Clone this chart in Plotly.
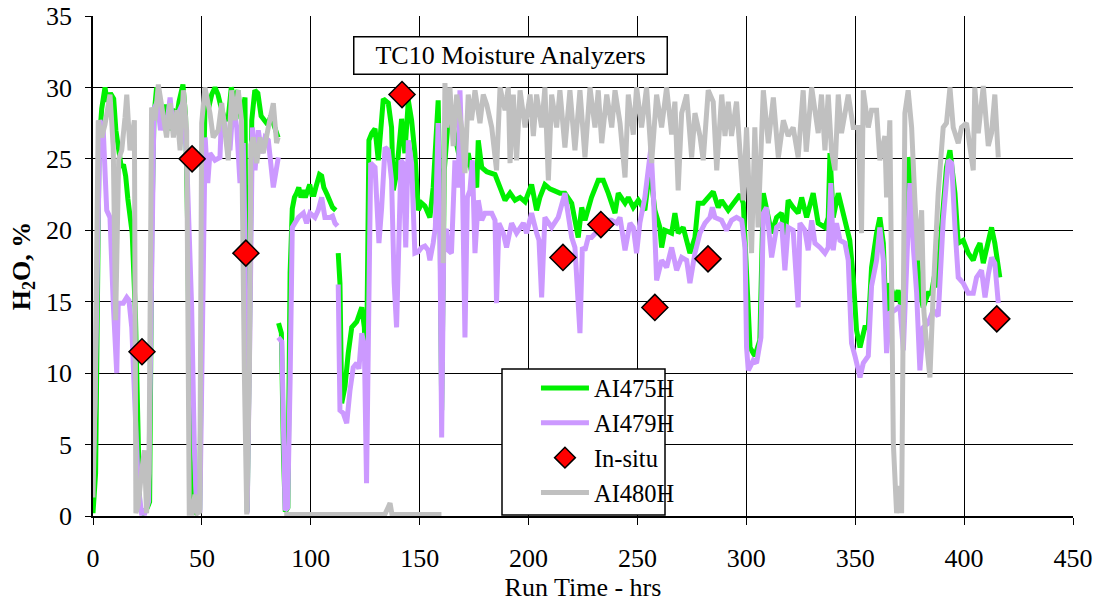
import plotly.graph_objects as go

# ---------------- data (hours, H2O %) ; None marks a gap in the record ----------------
green_hours = [0, 1.2, 2.8, 4, 5.5, 6.5, 8, 9.5, 10.5, 12,
               13, 14, 15, 16, 17, 18, 19.5, 20.5, 21.5, 23,
               25, 26, 27, 28, 29.2, 30.5, 32, 33.5, 35, 36.5,
               38, 39.5, 41.3, 42.5, 43.5, 44.5, 45.5, 47.5, 49, 50.3,
               51.5, 53, 54.5, 56, 57.4, 58.5, 60, 62, 63.5, 65,
               66.5, 68, 69.8, 70.3, 70.8, 71.8, 72.9, 74.3, 75.7, 77.2,
               78.7, 80.2, 81.7, 83.2, 85,
               None,
               85.2, 86.5, 87.5, 88.3, 89.5, 90.5, 91.5, 92.5, 93.5, 94.5,
               95.5, 96.5, 97.5, 98.5, 99.5, 100.5, 101.5, 102.5, 104, 105,
               106, 107.5, 109, 110, 111.5,
               None,
               112.6, 113.4, 114.2, 115.7, 117.2, 118.8, 121.1, 123.4, 124.6, 125.5,
               126.7, 128, 129.5, 131, 133.3, 135.6, 137.1, 137.9, 139.4, 141.7,
               143.2, 144.8, 146.3, 147.8, 149.4, 150.9, 152.4, 154.7, 156.2, 157.8,
               158.5, 159.3, 160.1, 161.3, 163.1, 164.7, 166.2, 168.5, 170.8, 172.3,
               173.9, 176.2, 176.9, 178.5, 180.8, 184.6, 186.9, 189.2, 191.5, 193.8,
               196.1, 198.4, 201.4, 203.7, 205.2, 207.5, 209.8, 212.1, 214.4, 216.7,
               219.8, 222.8, 224.4, 225.9, 228.9, 232, 234.3, 236.6, 239.7, 241.2,
               244.3, 245.8, 248.1, 250.4, 253.4, 255.7, 258, 260.3, 261.1, 262.6,
               265.7, 267.2, 268.7, 271, 274.1, 276.4, 277.9, 280.2, 282.5, 284.8,
               287.1, 288.6, 291.7, 294.8, 297.1, 298.6, 299.4, 300.1, 301.7, 303.9,
               306.2, 307.8, 310.1, 311.6, 313.9, 316.2, 317.7, 319.2, 321.5, 323.8,
               325.4, 327.7, 330.7, 333, 336.1, 337.6, 338.4, 339.9, 342.2, 344.5,
               347.5, 349.1, 350.6, 352.2, 354.4, 356, 357.5, 359.8, 361.3, 362.9,
               364.4, 365.9, 368.2, 369.7, 371.3, 372.8, 374.3, 375.9, 377.4, 379.7,
               381.2, 383.5, 385, 386.6, 387.4, 389.6, 391.9, 393.5, 395.8, 397.3,
               399.6, 401.9, 404.2, 405.7, 407.3, 408.8, 410.3, 412.6, 414.1, 416.4]
green_values = [0.2, 3, 26, 28.5, 30, 29, 29.6, 29.2, 27, 25.5,
                24.4, 24.6, 23.8, 22.2, 21, 19.8, 14, 6, 0.5, 0.2,
                0.6, 1, 20, 28, 30, 29.2, 27.5, 28.8, 27, 28.5,
                27.5, 29, 30.2, 28, 20, 5, 0.3, 0.2, 0.5, 20,
                29.3, 28.5, 29.5, 30, 29.5, 28.8, 28, 27.7, 30, 29,
                29.8, 27.8, 29.3, 15, 0.3, 12, 27.7, 29.8, 29.6, 28,
                27.7, 27.4, 28, 27.2, 26.5,
                None,
                13.5, 12.8, 4, 0.3, 0.6, 17, 21.5, 22.3, 22.6, 23,
                22.3, 22.8, 22.3, 22.8, 23.2, 22.5, 22.5, 23.1, 23.9, 23.8,
                23, 22.5, 22, 21.6, 21.4,
                None,
                18.4, 16.3, 7.9, 9.05, 11.4, 13.2, 13.6, 14.6, 13.2, 9,
                26.3, 26.8, 27.1, 24.9, 29.2, 28.9, 27.2, 22.8, 24, 27.8,
                25.4, 29.1, 27.7, 25.4, 21.4, 21.9, 21.7, 20.9, 23, 27.5,
                29.1, 22, 7.4, 24.2, 27.7, 27.7, 26.5, 24.9, 24.4, 25.4,
                24, 23, 26.3, 24.4, 24.1, 23.9, 23, 22.1, 22.6, 22.1,
                22.3, 22, 23.2, 21.4, 22.3, 23.2, 22.9, 22.7, 22.6, 22.6,
                21.9, 19.5, 21.6, 20.7, 22.3, 23.5, 23.5, 22.6, 21.2, 22.6,
                21.9, 22.3, 21.6, 22.1, 21.4, 24.4, 21.4, 20.2, 18.8, 20,
                19.8, 21.2, 19.8, 20.2, 18.4, 19.5, 21.9, 21.9, 22.3, 22.7,
                21.6, 22.1, 21.4, 22.1, 22.5, 21.9, 19.3, 15.6, 11.8, 11.2,
                12.3, 22.6, 20.9, 19.8, 20.9, 21.2, 19.3, 22.1, 21.6, 21.2,
                22.3, 20.9, 22.6, 20.5, 20.2, 20.9, 25.4, 20.9, 22.6, 21.2,
                19.3, 16.7, 13, 11.8, 13.2, 13.2, 17.4, 19.8, 20.9, 19.1,
                12.8, 16.3, 15.1, 15.8, 14.4, 15.1, 25.1, 24.2, 20.7, 15.6,
                14.6, 15.6, 15.6, 17, 16, 20.7, 24.4, 25.6, 22.6, 19.1,
                19.3, 18.4, 17.9, 18.6, 19.1, 17.7, 18.8, 20.2, 19.1, 16.7]

purple_hours = [0, 0.9, 3.2, 4.7, 6.3, 7.8, 9.3, 10.9, 11.6, 13.9,
                15.5, 16.5, 17.8, 19.3, 20.8, 22.3, 23.8, 25.5, 27, 28,
                29.5, 31, 32.5, 34, 35.4, 36.9, 39.2, 41.5, 43, 45.3,
                46.5, 47.6, 49.1, 50.6, 51.5, 52.7, 53.7, 56, 58.3, 59.1,
                60.6, 62.9, 64.4, 66, 67.5, 69, 69.8, 70.8, 72, 73.2,
                74.4, 75.9, 77.5, 79, 80.5, 82.8, 85.1,
                None,
                85.1, 86.7, 88.2, 89.4, 90.5, 91.5, 94.3, 96.6, 98.1, 99.6,
                101.9, 103.4, 105, 106.5, 108.8, 110, 111.1, 112.3,
                None,
                112.6, 113.4, 114.9, 116.5, 118, 119.5, 121.1, 122.1, 123.4, 124.6,
                125.6, 126.7, 127.5, 129.5, 131.3, 132.5, 134.1, 135.6, 137.1, 138.3,
                139.4, 140.5, 141.4, 142.4, 143.6, 144.8, 146.3, 147.8, 149.4, 150.9,
                152.4, 153.9, 154.7, 156.2, 157.2, 158.5, 159.3, 160.1, 161.1, 162.3,
                163.1, 164.6, 166.2, 167.7, 168.5, 169.5, 170.8, 171.9, 173.1, 174.2,
                175.4, 176.9, 178.5, 180, 183.1, 184.6, 185.3, 186.4, 188.4, 189.9,
                192.2, 194.5, 197.6, 199.1, 201.4, 203.7, 204.8, 206, 207.5, 210.6,
                213.6, 216.7, 218.5, 219.8, 221.3, 222.5, 223.6, 224.7, 225.9, 227.4,
                228.9, 232, 235.1, 238.1, 240.4, 242, 244.3, 246.6, 248.1, 249.6,
                251.1, 253.4, 255, 256.2, 257.3, 258.8, 261.1, 263.4, 265.7, 268,
                270.3, 272.6, 274.1, 276.4, 278.7, 281, 283.3, 284.4, 285.6, 287.1,
                288.6, 290.9, 293.2, 295.5, 297.9, 299.4, 300.1, 300.9, 303.2, 304.7,
                306.7, 307.8, 309.3, 311.6, 313.9, 316.2, 317.7, 319.2, 321.5, 323.8,
                324.6, 326.9, 328.4, 330, 331.5, 333.8, 336.1, 337.6, 338.8, 339.9,
                341.4, 343, 345.3, 346.8, 348.3, 349.9, 352.2, 353.7, 356, 357.5,
                359.8, 361.3, 362.9, 364.4, 365.9, 368.2, 370.5, 372.1, 373.6, 375.1,
                376.7, 378.2, 379.7, 381.2, 383.5, 385.8, 388.1, 390.4, 392.7, 394.3,
                395.8, 397.3, 399.6, 401.9, 404.2, 405.7, 408, 409.6, 411.1, 412.6,
                414.1, 415.7]
purple_values = [3, 7.9, 27.7, 27, 21.4, 20.9, 14.9, 10, 14.9, 14.9,
                 15.3, 15.1, 13.2, 7.9, 2, 0.2, 0.2, 1, 20, 28.5,
                 29, 27, 28, 27.5, 29.3, 27, 28.2, 29, 25.1, 14.6,
                 5, 0.4, 0.4, 17, 26.5, 23.3, 25.4, 24.9, 25.1, 28.4,
                 27.2, 25.6, 28.9, 27.2, 23.3, 26.1, 19, 0.2, 12.5, 27.2,
                 24.2, 27, 25.4, 26.5, 26.3, 23, 25.1,
                 None,
                 12.5, 12.2, 0.4, 0.6, 9.4, 20.2, 20.9, 21.2, 20.5, 21.2,
                 20.9, 21.4, 22.3, 20.9, 20.9, 21, 20.5, 20.3,
                 None,
                 16.2, 7.4, 7.2, 6.5, 8.8, 10.4, 10.7, 10.3, 12.8, 11.9,
                 2.3, 13, 24.7, 24.4, 19.1, 21.5, 25.8, 25.6, 23.5, 16.3,
                 13.2, 19.5, 24.9, 24.7, 18.8, 26.3, 24.7, 18.4, 18.5, 18.8,
                 18.9, 18.6, 17.9, 19.1, 20.2, 27.5, 19.6, 5.5, 19.6, 20.1,
                 18.6, 18.4, 24.9, 23, 29.8, 24.9, 12.5, 22.3, 22.8, 24.9,
                 18.4, 22.1, 20.7, 21.2, 21.2, 20.7, 14.9, 20.5, 19.8, 18.8,
                 20.5, 19.8, 20.5, 19.8, 21.2, 19.8, 19.3, 15.3, 20.9, 20.2,
                 20.9, 22.6, 21, 19.5, 18.8, 16, 12.8, 18.8, 18.6, 19.5,
                 19.5, 20, 20.7, 20.7, 20.5, 20.9, 18.6, 20.5, 20.2, 18.4,
                 20.5, 22.3, 24.4, 25.8, 22.6, 16.5, 17.9, 17.4, 18.8, 17.2,
                 18.1, 17.9, 16.3, 18.4, 19.8, 20.5, 20.9, 21.6, 20.9, 20.8,
                 20.7, 20, 20.7, 20.9, 20.7, 18.8, 11.8, 10.2, 10.9, 10.7,
                 12.5, 21.2, 21.6, 18.1, 20.2, 20.5, 17.2, 20.2, 20, 14.6,
                 20.5, 20, 18.6, 20.7, 19.1, 18.8, 18.4, 18.8, 23.3, 18.6,
                 20.5, 19.3, 19.1, 17.9, 12.1, 11.2, 9.7, 10.7, 11.2, 16.1,
                 17.9, 20.2, 17.9, 11.4, 14.2, 14.4, 14.7, 11.6, 17.9, 23.3,
                 18.8, 15.6, 10.2, 13.2, 13.5, 14.4, 14, 20.7, 24.9, 24.7,
                 20.2, 16.7, 16.3, 15.6, 15.6, 16.7, 17.2, 15.3, 16.9, 18.1,
                 17.7, 14.9]

gray_hours = [0, 0.9, 2.4, 4, 5.5, 7.8, 9.3, 10.4, 11.8, 13.2,
              14.7, 15.5, 17, 19, 19.7, 20.8, 22.3, 23.6, 24.6, 25.7,
              26.9, 28.5, 30, 32.3, 33.8, 35.4, 36.9, 38.5, 40, 41.5,
              43, 44.2, 45.6, 46.8, 48, 49, 49.9, 51.4, 53.7, 55.2,
              57.5, 59.1, 60.6, 62.1, 63.7, 65.2, 66.7, 68.2, 69.5, 70.6,
              71.8, 72.5, 73.6, 75.2, 76.7, 78.2, 80.5, 82.8, 84.3, 85,
              None,
              87.8, 100, 120, 134, 135.5, 136.4, 137.3, 150, 160,
              None,
              160.8, 161.6, 162.4, 163.9, 165.4, 167, 169.3, 170.8, 172.3, 173.8,
              175.4, 177.7, 179.2, 180.8, 183.1, 185.3, 186.9, 189.2, 190.7, 191.5,
              193, 194.5, 196.1, 198.4, 200.7, 202.2, 203.7, 206, 207.5, 209.1,
              210.6, 212.9, 214.4, 216.7, 219, 221.3, 223.6, 225.9, 228.2, 230.5,
              232, 233.6, 235.9, 238.2, 239.7, 242, 244.3, 245.8, 248.1, 249.6,
              251.9, 254.2, 256.5, 258.8, 261.1, 263.4, 265.7, 267.2, 268.7, 270.3,
              272.6, 274.9, 276.4, 278.7, 280.2, 282.5, 284.8, 286.4, 288.7, 290.2,
              291.7, 293.2, 295.5, 297.1, 298.6, 300.1, 301.7, 302.4, 303.9, 305.4,
              307.8, 310.1, 312.4, 314.7, 317, 319.2, 321.5, 323.8, 326.1, 327.5,
              330, 333, 334.5, 336.1, 337.6, 339.1, 340.7, 342.2, 343.7, 346.8,
              349.1, 351.4, 352.9, 353.7, 356, 357.5, 359.8, 361.3, 363.6, 364.4,
              365.9, 367.5, 369, 370.5, 371.3, 372.8, 374.3, 375.9, 377.4, 378.9,
              380.5, 381.5, 382.7, 384.3, 385.8, 388.1, 390.4, 391.9, 393.5, 395,
              397.3, 398.8, 401.1, 402.6, 404.2, 404.9, 406.5, 408.8, 411.1, 412.6,
              414.1, 415.7]
gray_values = [1.3, 8, 27.7, 26.5, 27.4, 29.5, 25.8, 13.7, 25, 25.6,
               27.9, 29.5, 25.6, 27.7, 0.2, 0.8, 3.1, 4.6, 0.2, 3,
               28.6, 27.7, 30.2, 27.7, 26.5, 28.9, 26.5, 28.4, 25.6, 29.8,
               27, 0.2, 0.2, 1.5, 0.2, 0.3, 27.5, 30, 28.2, 26.5,
               27, 28.9, 26.5, 24.9, 29.8, 27.7, 29.8, 27.7, 10, 0.1,
               10, 26, 26.5, 24.7, 26.5, 25.4, 27.2, 28.9, 26.1, 26.5,
               None,
               0.1, 0.1, 0.1, 0.1, 0.6, 0.9, 0.1, 0.1, 0.1,
               None,
               17.7, 30.3, 27.2, 30, 25.9, 29.5, 27.2, 24, 29.5, 27.7,
               29.8, 27.5, 29.5, 28.8, 27.2, 24.2, 30, 28.4, 30, 24.7,
               29.5, 24.9, 29.8, 27.2, 29.5, 26.6, 29.5, 27.2, 30, 23.5,
               29.5, 27.2, 29.8, 25.8, 29.8, 25.6, 29.8, 25.1, 30, 27.2,
               29.8, 26.1, 29.5, 27.2, 29.8, 27.5, 23.7, 29.5, 26.7, 30,
               27.2, 30, 24.7, 29.5, 27.2, 30, 26.7, 29, 22.8, 28.2,
               29.5, 25.1, 28.2, 26.6, 24.9, 29.8, 29, 24.2, 29.5, 26.6,
               29, 26.6, 29, 25.6, 22.1, 27.2, 20.2, 18.4, 27.2, 20.2,
               29.8, 26.1, 29.3, 25.1, 27.7, 26.6, 27.2, 25.1, 29.8, 25.5,
               30, 26.8, 29.5, 25.6, 29.5, 25.6, 24.2, 29.5, 26.8, 29.5,
               27.2, 27.2, 19.8, 29.8, 27.2, 28.4, 28.4, 24.9, 26.6, 22.3,
               27.7, 5.1, 0.2, 2.1, 0.2, 28.2, 29.8, 27.2, 22.1, 17.9,
               21.4, 14.4, 12.1, 9.7, 15.6, 22.6, 27.2, 27.5, 30, 27.2,
               26.1, 27.2, 27.5, 26.1, 24.2, 30, 26.8, 30.1, 25.9, 26.8,
               29.5, 25.1]

insitu_hours = [22.5, 45.5, 70.2, 141.9, 215.8, 233.2, 258, 282.4, 415]
insitu_values = [11.5, 25, 18.4, 29.5, 18.1, 20.4, 14.6, 18.0, 13.8]

x_ticks = [0, 50, 100, 150, 200, 250, 300, 350, 400, 450]
y_ticks = [0, 5, 10, 15, 20, 25, 30, 35]

for a, b in [(green_hours, green_values), (purple_hours, purple_values), (gray_hours, gray_values)]:
    assert len(a) == len(b), (len(a), len(b))

FONT = "Liberation Serif"

fig = go.Figure()
fig.add_trace(go.Scatter(x=green_hours, y=green_values, mode="lines", name="AI475H",
                         line=dict(color="#00f000", width=5), connectgaps=False, legendrank=1))
fig.add_trace(go.Scatter(x=purple_hours, y=purple_values, mode="lines", name="AI479H",
                         line=dict(color="#cc99ff", width=5), connectgaps=False, legendrank=2))
fig.add_trace(go.Scatter(x=gray_hours, y=gray_values, mode="lines", name="AI480H",
                         line=dict(color="#c0c0c0", width=5), connectgaps=False, legendrank=4))
fig.add_trace(go.Scatter(x=insitu_hours, y=insitu_values, mode="markers", name="In-situ",
                         marker=dict(symbol="diamond", size=20, color="#ff0000",
                                     line=dict(color="black", width=1.5)), legendrank=3))

fig.update_layout(
    width=1098, height=605,
    margin=dict(l=93, r=25, t=16, b=89),
    plot_bgcolor="white", paper_bgcolor="white",
    font=dict(family=FONT, size=26, color="black"),
    showlegend=True,
    legend=dict(x=0.452, y=0.301, xanchor="left", yanchor="top",
                bgcolor="rgba(0,0,0,0)", borderwidth=0,
                font=dict(family=FONT, size=24.5), itemwidth=48,
                tracegroupgap=0),
    xaxis=dict(range=[0, 450], tickvals=x_ticks, showgrid=True, gridcolor="black", gridwidth=1,
               showline=True, linecolor="black", linewidth=1.5, ticks="outside", ticklen=7,
               tickcolor="black", zeroline=False, ticklabelstandoff=11, automargin=False,
               title=dict(text="Run Time - hrs", font=dict(family=FONT, size=26), standoff=2)),
    yaxis=dict(range=[0, 35], tickvals=y_ticks, showgrid=True, gridcolor="black", gridwidth=1,
               showline=True, linecolor="black", linewidth=1.5, ticks="outside", ticklen=6,
               tickcolor="black", zeroline=False, ticklabelstandoff=8, automargin=False,
               title=dict(text="<b>H<sub>2</sub>O, %</b>", font=dict(family=FONT, size=26), standoff=8)),
    shapes=[dict(type="rect", xref="paper", yref="paper",
                 x0=(502 - 93) / 980, x1=(665 - 93) / 980, y0=(516 - 515) / 500, y1=(516 - 369) / 500,
                 line=dict(color="black", width=1.5), fillcolor="white", layer="above")],
    annotations=[dict(text="TC10 Moisture Analyzers", xref="paper", yref="paper",
                      x=(510 - 93) / 980, y=(516 - 56) / 500, xanchor="center", yanchor="middle",
                      showarrow=False, font=dict(family=FONT, size=26),
                      bgcolor="white", bordercolor="black", borderwidth=1.5,
                      width=310, height=34, borderpad=1)],
)

fig.write_html("out.html")
